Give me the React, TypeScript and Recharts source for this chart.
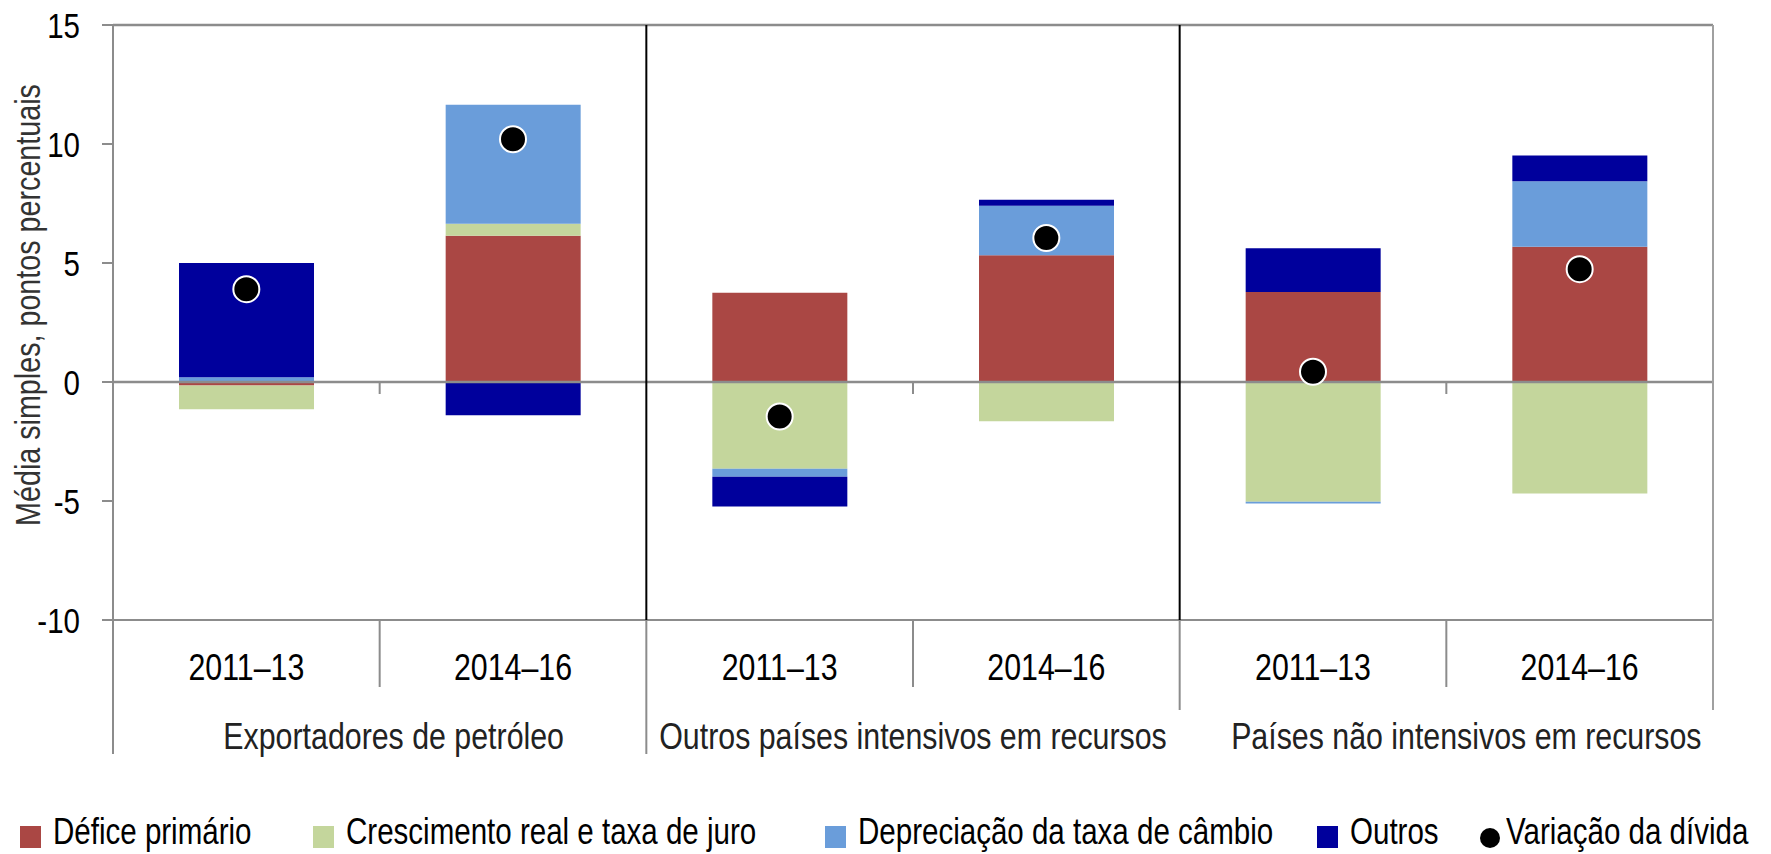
import { ComposedChart, Bar, Line, XAxis, YAxis, ReferenceLine } from 'recharts';

const years = ['2011–13', '2014–16', '2011–13', '2014–16', '2011–13', '2014–16'];
const groups = ['Exportadores de petróleo', 'Outros países intensivos em recursos', 'Países não intensivos em recursos'];

const defice = [-0.15, 6.15, 3.75, 5.33, 3.78, 5.68];
const crescimento = [-1.0, 0.5, -3.65, -1.65, -5.03, -4.69];
const depreciacao = [0.2, 5.0, -0.33, 2.08, -0.08, 2.75];
const outros = [4.8, -1.4, -1.25, 0.25, 1.84, 1.09];
const divida = [3.9, 10.2, -1.45, 6.05, 0.43, 4.74];

const yTicks = [-10, -5, 0, 5, 10, 15];

const series = [
  { key: 'defice', name: 'Défice primário', color: '#AA4744' },
  { key: 'crescimento', name: 'Crescimento real e taxa de juro', color: '#C4D69C' },
  { key: 'depreciacao', name: 'Depreciação da taxa de câmbio', color: '#6A9DDA' },
  { key: 'outros', name: 'Outros', color: '#00009C' },
];
const dotName = 'Variação da dívida';

const data = years.map((y, i) => ({
  id: String(i),
  defice: defice[i],
  crescimento: crescimento[i],
  depreciacao: depreciacao[i],
  outros: outros[i],
  divida: divida[i],
}));

// layout
const W = 1771;
const H = 854;
const PLOT_LEFT = 113;
const PLOT_RIGHT = 1713;
const PLOT_TOP = 25;
const PLOT_BOTTOM = 620;
const PLOT_H = PLOT_BOTTOM - PLOT_TOP;
const BAND = (PLOT_RIGHT - PLOT_LEFT) / years.length;
const HALF = BAND / 2;
const YAXIS_W = 80;
const XAXIS_H = 140;
const GRAY = '#8c8c8c';
const FONT = '"Liberation Sans", Arial, sans-serif';
const NARROW = 0.82; // no Arial Narrow installed, squeeze Liberation Sans instead
const legendX = [20, 313, 825, 1317, 1480];

function NarrowText({ x, y, size, anchor = 'middle', fill = '#000', rotate = 0, baseline, children }: any) {
  return (
    <text
      transform={`translate(${x} ${y}) rotate(${rotate}) scale(${NARROW} 1)`}
      textAnchor={anchor}
      dominantBaseline={baseline}
      fontSize={size}
      fontFamily={FONT}
      fill={fill}
    >
      {children}
    </text>
  );
}

function XTick(props: any) {
  const { x, y, payload } = props;
  const i = props.index ?? payload.index;
  const n = years.length;
  const right = x + HALF;
  const groupEnd = i % 2 === 1;
  const last = i === n - 1;
  const zeroY = y - (PLOT_H * 10) / 25;
  return (
    <g>
      <NarrowText x={x} y={y + 60} size={37}>{years[i]}</NarrowText>
      {i === 0 && (
        <line x1={x - HALF} x2={x - HALF} y1={y} y2={y + 134} stroke={GRAY} strokeWidth={2} />
      )}
      {!groupEnd && (
        <g>
          <line x1={right} x2={right} y1={y} y2={y + 67} stroke={GRAY} strokeWidth={2} />
          <line x1={right} x2={right} y1={zeroY} y2={zeroY + 12} stroke={GRAY} strokeWidth={2} />
        </g>
      )}
      {groupEnd && !last && (
        <g>
          <line x1={right} x2={right} y1={y - PLOT_H} y2={y} stroke="#000" strokeWidth={2} />
          <line x1={right} x2={right} y1={y} y2={y + (i === 1 ? 134 : 90)} stroke={GRAY} strokeWidth={2} />
        </g>
      )}
      {last && (
        <line x1={right} x2={right} y1={y - PLOT_H} y2={y + 90} stroke="#a0a0a0" strokeWidth={2} />
      )}
      {groupEnd && (
        <NarrowText x={x - HALF + (i === 5 ? 20 : i === 1 ? 14 : 0)} y={y + 129} size={37} fill="#222">
          {groups[(i - 1) / 2]}
        </NarrowText>
      )}
    </g>
  );
}

function YTick(props: any) {
  const { x, y, payload } = props;
  return (
    <NarrowText x={x} y={y} size={36} anchor="end" baseline="central">
      {payload.value}
    </NarrowText>
  );
}

const yTitle = (
  <NarrowText x={28} y={305} size={35} rotate={-90} baseline="central" fill="#333">
    Média simples, pontos percentuais
  </NarrowText>
);

export default function App() {
  return (
    <div style={{ position: 'absolute', left: 0, top: 0, width: W, height: H, background: '#fff', overflow: 'hidden' }}>
      <ComposedChart
        width={W}
        height={H}
        data={data}
        stackOffset="sign"
        margin={{ top: PLOT_TOP, right: W - PLOT_RIGHT, left: PLOT_LEFT - YAXIS_W, bottom: H - PLOT_BOTTOM - XAXIS_H }}
      >
        <XAxis
          dataKey="id"
          height={XAXIS_H}
          interval={0}
          axisLine={false}
          tickLine={false}
          tickSize={0}
          tickMargin={0}
          tick={<XTick />}
        />
        <YAxis
          width={YAXIS_W}
          domain={[-10, 15]}
          ticks={yTicks}
          interval={0}
          tickSize={11}
          tickMargin={22}
          axisLine={{ stroke: GRAY, strokeWidth: 2 }}
          tickLine={{ stroke: GRAY, strokeWidth: 2 }}
          tick={<YTick />}
          label={{ content: () => yTitle }}
        />
        {series.map(s => (
          <Bar
            key={s.key}
            dataKey={s.key}
            name={s.name}
            stackId="a"
            fill={s.color}
            barSize={135}
            isAnimationActive={false}
          />
        ))}
        <ReferenceLine y={15} stroke={GRAY} strokeWidth={2.5} />
        <ReferenceLine y={0} stroke={GRAY} strokeWidth={2.5} />
        <ReferenceLine y={-10} stroke={GRAY} strokeWidth={2} />
        <Line
          dataKey="divida"
          name={dotName}
          stroke="none"
          dot={{ r: 13, fill: '#000', stroke: '#fff', strokeWidth: 2 }}
          activeDot={false}
          legendType="circle"
          isAnimationActive={false}
        />
      </ComposedChart>
      <div style={{ position: 'absolute', left: 0, top: 812, width: W, height: 40, fontFamily: FONT, fontSize: 36, lineHeight: '40px', color: '#000' }}>
        {[...series.map(s => ({ name: s.name, color: s.color, dot: false })), { name: dotName, color: '#000', dot: true }].map((e, i) => (
          <div key={e.name} style={{ position: 'absolute', left: legendX[i], top: 0, whiteSpace: 'nowrap' }}>
            <span
              style={{
                position: 'absolute',
                left: 0,
                top: e.dot ? 16 : 14,
                width: e.dot ? 20 : 21,
                height: e.dot ? 20 : 22,
                borderRadius: e.dot ? '50%' : 0,
                background: e.color,
              }}
            />
            <span
              style={{
                position: 'absolute',
                left: e.dot ? 26 : 33,
                top: 0,
                transform: `scaleX(${NARROW})`,
                transformOrigin: 'left top',
              }}
            >
              {e.name}
            </span>
          </div>
        ))}
      </div>
    </div>
  );
}
